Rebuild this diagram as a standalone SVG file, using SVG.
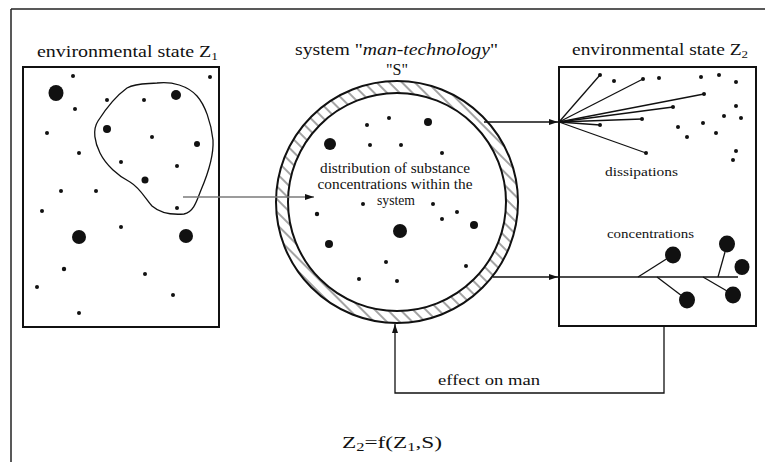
<svg xmlns="http://www.w3.org/2000/svg" width="765" height="462" viewBox="0 0 765 462">
<style>
.t{font-family:"Liberation Serif","Times New Roman",serif;fill:#111}
.box{fill:none;stroke:#111;stroke-width:2}
.ln{fill:none;stroke:#111;stroke-width:1.3}
.dot{fill:#111}
</style>
<defs>
<marker id="ah" markerUnits="userSpaceOnUse" markerWidth="9" markerHeight="6" refX="9" refY="3" orient="auto">
<path d="M0,0 L9,3 L0,6 Z" fill="#111"/>
</marker>
<pattern id="hatch" patternUnits="userSpaceOnUse" width="9" height="9" patternTransform="rotate(-45)">
<line x1="1" y1="0" x2="1" y2="9" stroke="#333" stroke-width="0.9"/>
</pattern>
</defs>
<rect width="765" height="462" fill="#fff"/>
<g id="frame">
<line x1="11" y1="9" x2="765" y2="9" stroke="#222" stroke-width="1.3"/>
<line x1="11" y1="9" x2="11" y2="462" stroke="#222" stroke-width="1.5"/>
</g>
<g id="state-z1">
<text class="t" x="37" y="57" font-size="16.5" textLength="181" lengthAdjust="spacingAndGlyphs">environmental state Z<tspan font-size="11" dy="3">1</tspan></text>
<rect class="box" x="23" y="67" width="196" height="260"/>
<path class="ln" stroke-width="1.6" d="M157,83 C172,81 188,86 197,96 C205,105 211,122 213,140 C214,158 207,176 201,190 C197,200 194,212 184,214 C172,215 160,213 152,206 C145,198 140,188 130,182 C118,176 106,165 100,153 C95,143 92,130 98,121 C105,110 116,96 127,88 C136,83 146,84 157,83 Z"/>
<g class="dot">
<ellipse cx="56" cy="93" rx="7.5" ry="8"/>
<circle cx="73" cy="76" r="2"/><circle cx="210" cy="77" r="2"/><circle cx="107" cy="100" r="2"/><circle cx="144" cy="100" r="2"/>
<circle cx="176" cy="95" r="5"/><circle cx="75" cy="109" r="2"/><circle cx="107" cy="129" r="4"/><circle cx="47" cy="133" r="2"/>
<circle cx="152" cy="137" r="2"/><circle cx="197" cy="144" r="3"/><circle cx="79" cy="153" r="2"/><circle cx="121" cy="162" r="2"/>
<circle cx="177" cy="166" r="2"/><circle cx="145" cy="180" r="3.5"/><circle cx="61" cy="191" r="2"/><circle cx="96" cy="191" r="2"/>
<circle cx="42" cy="211" r="2"/><circle cx="177" cy="208" r="2"/><circle cx="121" cy="227" r="2"/>
<circle cx="79" cy="237" r="7"/><circle cx="186" cy="236" r="7"/>
<circle cx="64" cy="269" r="2.2"/><circle cx="145" cy="274" r="2"/><circle cx="37" cy="287" r="2"/><circle cx="173" cy="295" r="2"/><circle cx="79" cy="313" r="2"/>
</g>
</g>
<g id="system-s">
<text class="t" x="295" y="55" font-size="16.5" textLength="203" lengthAdjust="spacingAndGlyphs">system "<tspan font-style="italic">man-technology</tspan>"</text>
<text class="t" x="397" y="75" font-size="16" text-anchor="middle">"S"</text>
<path d="M276,202 a121,121 0 1,0 242,0 a121,121 0 1,0 -242,0 Z M288,202 a109,109 0 1,0 218,0 a109,109 0 1,0 -218,0 Z" fill="url(#hatch)" fill-rule="evenodd"/>
<circle cx="397" cy="202" r="121" class="box"/>
<circle cx="397" cy="202" r="109" class="box"/>
<text class="t" font-size="14" text-anchor="middle"><tspan x="395" y="173" textLength="150" lengthAdjust="spacingAndGlyphs">distribution of substance</tspan><tspan x="395" y="189" textLength="155" lengthAdjust="spacingAndGlyphs">concentrations within the</tspan><tspan x="396" y="205" textLength="38" lengthAdjust="spacingAndGlyphs">system</tspan></text>
<g class="dot">
<circle cx="367" cy="125" r="2"/><circle cx="389" cy="118" r="2"/><circle cx="428" cy="122" r="4"/><circle cx="330" cy="144" r="6"/>
<circle cx="370" cy="145" r="2"/><circle cx="401" cy="145" r="2"/><circle cx="442" cy="153" r="2"/>
<circle cx="363" cy="204" r="2"/><circle cx="433" cy="204" r="2"/><circle cx="317" cy="214" r="2.2"/>
<circle cx="442" cy="219" r="2"/><circle cx="457" cy="212" r="2"/><circle cx="474" cy="225" r="4"/>
<circle cx="400" cy="231" r="7"/><circle cx="329" cy="244" r="4"/><circle cx="386" cy="262" r="2"/>
<circle cx="466" cy="266" r="2"/><circle cx="359" cy="279" r="2"/><circle cx="397" cy="281" r="2"/>
</g>
</g>
<g id="state-z2">
<text class="t" x="572" y="55" font-size="16.5" textLength="176" lengthAdjust="spacingAndGlyphs">environmental state Z<tspan font-size="11" dy="3">2</tspan></text>
<rect class="box" x="559" y="67" width="197" height="259"/>
<g class="ln" stroke-width="1.1">
<line x1="559" y1="122" x2="600" y2="75"/>
<line x1="559" y1="122" x2="643" y2="79"/>
<line x1="559" y1="122" x2="704" y2="94"/>
<line x1="559" y1="122" x2="673" y2="107"/>
<line x1="559" y1="122" x2="642" y2="119"/>
<line x1="559" y1="122" x2="600" y2="125"/>
<line x1="559" y1="122" x2="646" y2="153"/>
</g>
<g class="dot">
<circle cx="600" cy="75" r="2"/><circle cx="643" cy="79" r="2"/><circle cx="704" cy="94" r="2"/><circle cx="673" cy="107" r="2"/>
<circle cx="642" cy="119" r="2"/><circle cx="600" cy="125" r="2"/><circle cx="646" cy="153" r="2"/>
<circle cx="614" cy="81" r="2"/><circle cx="659" cy="78" r="2"/><circle cx="701" cy="77" r="2"/><circle cx="719" cy="75" r="2"/>
<circle cx="736" cy="82" r="2"/><circle cx="736" cy="106" r="2"/><circle cx="724" cy="116" r="2"/><circle cx="741" cy="118" r="2"/>
<circle cx="678" cy="127" r="2"/><circle cx="703" cy="123" r="2"/><circle cx="687" cy="137" r="2"/><circle cx="716" cy="133" r="2"/>
<circle cx="736" cy="151" r="2"/><circle cx="733" cy="160" r="2"/>
</g>
<text class="t" x="605" y="176" font-size="13.5" textLength="73" lengthAdjust="spacingAndGlyphs">dissipations</text>
<text class="t" x="607" y="238" font-size="13.5" textLength="87" lengthAdjust="spacingAndGlyphs">concentrations</text>
<g class="ln" stroke-width="1.3">
<line x1="559" y1="277" x2="738" y2="277"/>
<line x1="638" y1="277" x2="668" y2="258"/>
<line x1="657" y1="277" x2="682" y2="296"/>
<line x1="703" y1="277" x2="727" y2="291"/>
<line x1="718" y1="277" x2="725" y2="252"/>
</g>
<g class="dot">
<ellipse cx="673" cy="255" rx="8" ry="8.5"/><ellipse cx="687" cy="300" rx="8" ry="8.5"/><ellipse cx="733" cy="295" rx="8" ry="8.5"/>
<ellipse cx="727" cy="244" rx="8" ry="8.5"/><ellipse cx="742" cy="267" rx="7.5" ry="8"/>
</g>
</g>
<g id="connectors">
<line x1="183" y1="197" x2="314" y2="197" stroke="#7a7a7a" stroke-width="1.3" marker-end="url(#ah)"/>
<line x1="484" y1="122" x2="558" y2="122" class="ln" marker-end="url(#ah)"/>
<line x1="493" y1="277" x2="558" y2="277" class="ln" marker-end="url(#ah)"/>
<polyline points="664,326 664,393 395,393 395,324" class="ln" stroke-width="1.6" marker-end="url(#ah)"/>
</g>
<g id="effect-label">
<text class="t" x="438" y="385" font-size="15" textLength="102" lengthAdjust="spacingAndGlyphs">effect on man</text>
</g>
<g id="formula">
<text class="t" x="342" y="448" font-size="17" textLength="100" lengthAdjust="spacingAndGlyphs">Z<tspan font-size="12" dy="3">2</tspan><tspan dy="-3">=f(Z</tspan><tspan font-size="12" dy="3">1</tspan><tspan dy="-3">,S)</tspan></text>
</g>
</svg>
